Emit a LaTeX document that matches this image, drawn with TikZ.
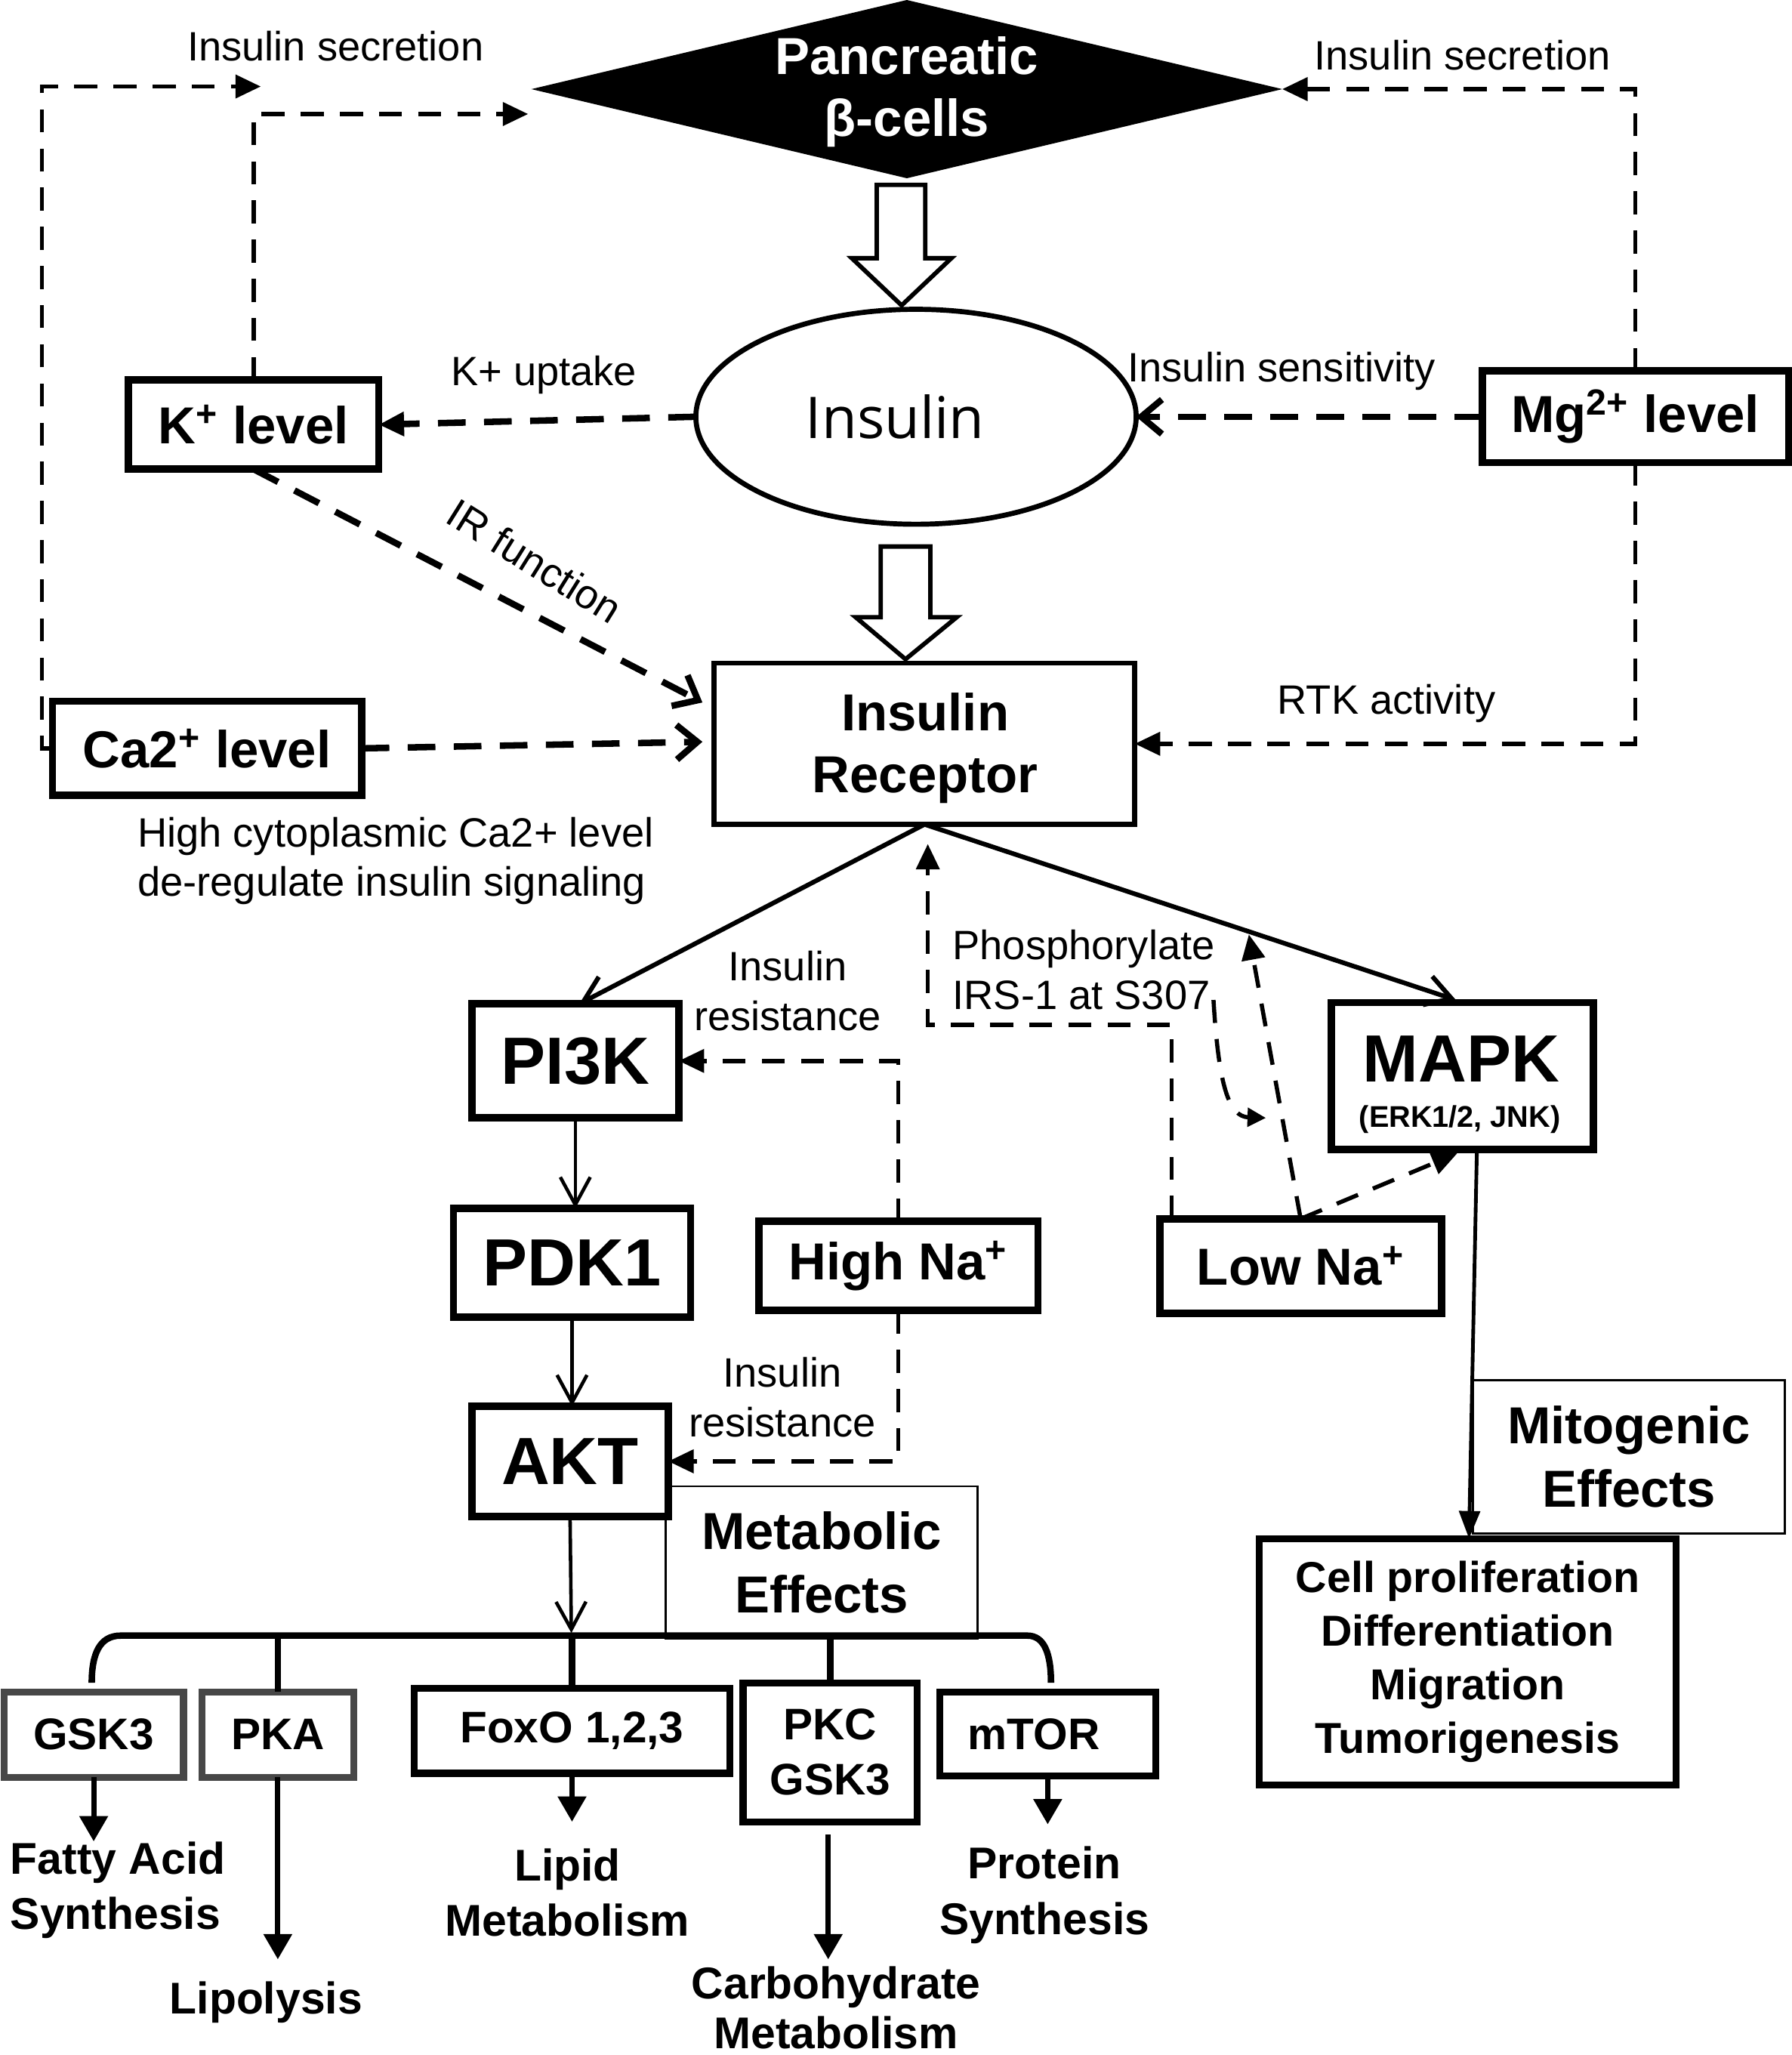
\documentclass[tikz,border=0pt]{standalone}
\usepackage{fontspec}
\setmainfont{Liberation Sans}
\newfontfamily\osans{Open Sans}
\usetikzlibrary{shapes.geometric,arrows.meta,calc}
\begin{document}
\begin{tikzpicture}[x=0.2mm,y=-0.2mm,line join=miter,
  every node/.style={inner sep=0pt,outer sep=0pt},
  lbl/.style={font=\fontsize{17.8}{21.5}\selectfont,align=center},
  bx/.style={draw,line width=3.2pt,align=center,font=\bfseries\fontsize{22.6}{27}\selectfont},
  bigbx/.style={bx,font=\bfseries\fontsize{29}{33}\selectfont},
  smbx/.style={bx,line width=3pt,font=\bfseries\fontsize{19.2}{24}\selectfont},
  graybx/.style={smbx,draw=black!72},
  thinbx/.style={draw,line width=0.9pt,align=center,font=\bfseries\fontsize{22.6}{27.5}\selectfont},
  outtxt/.style={font=\bfseries\fontsize{19.3}{24}\selectfont,align=center},
  dthin/.style={line width=1.8pt,dash pattern=on 10pt off 7pt},
  dthick/.style={line width=2.8pt,dash pattern=on 12pt off 8pt},
  tri/.style={-{Triangle[length=11pt,width=10pt]}},
  barb/.style={-{Straight Barb[length=9pt,width=15pt]}},
  vbarb/.style={-{Straight Barb[length=11pt,width=13pt]}},
  blk/.style={line width=1.9pt,fill=white},
  outarrow/.style={line width=2.3pt,-{Triangle[length=11pt,width=12pt]}}
]
\useasboundingbox (0,0) rectangle (1367,1568);

% ---------- top: pancreatic beta cells, insulin ----------
\node[diamond,fill=black,draw=none,minimum width=114.6mm,minimum height=27.2mm] (panc) at (692,68) {};
\node[text=white,align=center,font=\bfseries\fontsize{22.6}{27}\selectfont] (pancT) at (692,70) {Pancreatic\\β-cells};
\node[draw,ellipse,line width=2.2pt,minimum width=67.2mm,minimum height=32.8mm] (ins) at (699,318) {};
\node[font=\osans\fontsize{25}{30}\selectfont] (insT) at (683,318) {Insulin};

\draw[blk] (669,141) -- (706,141) -- (706,197) -- (726,197) -- (688,233) -- (650,197) -- (669,197) -- cycle;
\draw[blk] (672,417) -- (710,417) -- (710,471) -- (730,471) -- (691,503) -- (653,471) -- (672,471) -- cycle;

% ---------- boxes ----------
\node[bx,minimum width=38.2mm,minimum height=13.6mm] (k) at (193.5,324) {K\textsuperscript{+} level};
\node[bx,minimum width=46.8mm,minimum height=14mm] (mg) at (1248,318) {Mg\textsuperscript{2+} level};
\node[bx,minimum width=47.2mm,minimum height=14.4mm] (ca) at (158,571) {Ca2\textsuperscript{+} level};
\node[draw,line width=2.2pt,minimum width=64.2mm,minimum height=24.6mm,align=center,font=\bfseries\fontsize{22.6}{26.7}\selectfont] (ir) at (705.5,567.5) {};
\node[align=center,font=\bfseries\fontsize{22.6}{26.7}\selectfont] (irT) at (706,571) {Insulin\\Receptor};
\node[bigbx,minimum width=31.6mm,minimum height=17.4mm] (pi3k) at (439,809.5) {PI3K};
\node[bigbx,minimum width=36.2mm,minimum height=16.6mm] (pdk) at (436.5,963.5) {PDK1};
\node[bigbx,minimum width=30mm,minimum height=16.8mm] (akt) at (435,1115) {AKT};
\node[bx,minimum width=42.6mm,minimum height=13.6mm] (hna) at (685.5,966) {High Na\textsuperscript{+}};
\node[bx,minimum width=43mm,minimum height=14.4mm] (lna) at (992.5,966) {Low Na\textsuperscript{+}};
\node[bx,minimum width=40mm,minimum height=22.4mm] (mapk) at (1116,821) {};
\node[font=\bfseries\fontsize{29}{30}\selectfont] (mapkT) at (1115,808) {MAPK};
\node[font=\bfseries\fontsize{13}{15}\selectfont] (mapkS) at (1114,854) {(ERK1/2, JNK)};
\node[thinbx,minimum width=47.6mm,minimum height=23.4mm] (mito) at (1243,1111.5) {Mitogenic\\Effects};
\node[bx,line width=2.9pt,minimum width=63.6mm,minimum height=37.6mm,font=\bfseries\fontsize{18.8}{23.3}\selectfont] (cell) at (1120,1268) {Cell proliferation\\Differentiation\\Migration\\Tumorigenesis};
\node[thinbx,minimum width=47.6mm,minimum height=23.2mm] (meta) at (627,1192) {Metabolic\\Effects};
\node[graybx,minimum width=27.4mm,minimum height=13mm] (gsk) at (71.5,1323.5) {GSK3};
\node[graybx,minimum width=23.2mm,minimum height=13mm] (pka) at (212,1323.5) {PKA};
\node[smbx,minimum width=48.2mm,minimum height=13mm] (foxo) at (436.5,1320.5) {FoxO 1,2,3};
\node[smbx,minimum width=26.6mm,minimum height=21.2mm] (pkc) at (633.5,1337) {PKC\\GSK3};
\node[smbx,minimum width=33mm,minimum height=12.8mm] (mtor) at (799.5,1323) {mTOR\hspace*{12pt}};

% ---------- labels ----------
\node[lbl] (l1) at (256,35) {Insulin secretion};
\node[lbl] (l2) at (1116,42) {Insulin secretion};
\node[lbl] (l3) at (415,286) {K+ uptake};
\node[lbl] (l4) at (978,283) {Insulin sensitivity};
\node[lbl,rotate=-32] (l5) at (408,428) {IR function};
\node[lbl] (l6) at (1058,537) {RTK activity};
\node[lbl,align=left,anchor=west] (l7) at (105,657) {High cytoplasmic Ca2+ level\\de-regulate insulin signaling};
\node[lbl] (l8) at (601,756) {Insulin\\resistance};
\node[lbl] (l9) at (597,1066) {Insulin\\resistance};
\node[lbl,align=left,anchor=west] (l10) at (727,740) {Phosphorylate\\IRS-1 at S307};

\node[outtxt,align=left,anchor=west] (fas) at (8,1442) {Fatty Acid\\Synthesis};
\node[outtxt] (lipo) at (203,1528) {Lipolysis};
\node[outtxt] (lipid) at (433,1444) {Lipid\\Metabolism};
\node[outtxt,font=\bfseries\fontsize{19.3}{21.6}\selectfont] (carb) at (638,1532) {Carbohydrate\\Metabolism};
\node[outtxt] (prot) at (797,1446) {Protein\\Synthesis};

% ---------- dashed connectors ----------
\coordinate (sl1) at (199,66);
\coordinate (sl2) at (403,87);
\draw[dthin,tri] (ca.west) -- ++(-8,0) |- (sl1);
\draw[dthin,tri] (k.north) |- (sl2);
\draw[dthin,tri] (mg.north) |- (panc.east);
\draw[dthick,tri] (ins.west) -- (k.east);
\draw[dthick,barb] (mg.west) -- (ins.east);
\coordinate (ir1) at (536,536);
\coordinate (ir2) at (536,566);
\draw[dthick,barb] (k.south) -- (ir1);
\draw[dthick,barb] (ca.east) -- (ir2);
\draw[dthin,tri] (mg.south) |- (ir.east);
\draw[dthin,tri] (hna.north) |- (pi3k.east);
\draw[dthin,tri] (hna.south) |- (akt.east);

\coordinate (ln0) at (894,930);
\coordinate (lnc) at (894,782);
\coordinate (irb) at (708,644);
\draw[dthin,tri] (ln0) -- (lnc) -| (irb);
\coordinate (cv0) at (926,763);
\coordinate (cv1) at (966,853);
\draw[dthin,-{Triangle[length=8pt,width=8pt]}] (cv0) .. controls (930,830) and (938,852) .. (cv1);
\coordinate (up1) at (953,713);
\coordinate (mp1) at (1112,880);
\draw[dthin,tri] (lna.north) -- (up1);
\draw[dthin,tri] (lna.north) -- (mp1);

% ---------- solid connectors ----------
\draw[line width=2pt,vbarb] (ir.south) -- ($(pi3k.north)+(3,0)$);
\draw[line width=2pt,vbarb] (ir.south) -- ($(mapk.north)+(-5,-2)$);
\draw[line width=1.5pt,-{Straight Barb[length=12pt,width=13pt]}] (pi3k.south) -- (pi3k.south |- pdk.north);
\draw[line width=1.5pt,-{Straight Barb[length=12pt,width=13pt]}] (pdk.south) -- (pdk.south |- akt.north);
\coordinate (barpt) at (436,1246);
\draw[line width=1.5pt,-{Straight Barb[length=12pt,width=13pt]}] (akt.south) -- (barpt);
\draw[line width=1.6pt,-{Triangle[length=12pt,width=9pt]}] ($(mapk.south)+(11,0)$) -- ($(cell.north)+(1,0)$);

% branch bar
\coordinate (barL) at (0,1248);
\draw[line width=2.8pt] (70,1284) .. controls (70,1262) and (76,1248) .. (92,1248) -- (784,1248) .. controls (797,1248) and (802,1262) .. (802,1284);
\draw[line width=2.8pt] (pka.north |- barL) -- (pka.north);
\draw[line width=2.8pt] (foxo.north |- barL) -- (foxo.north);
\draw[line width=2.8pt] (pkc.north |- barL) -- (pkc.north);

% outcome arrows
\coordinate (o1) at (71.5,1405);
\coordinate (o2) at (212,1495);
\coordinate (o3) at (436.5,1390);
\coordinate (o4a) at (632,1400);
\coordinate (o4) at (632,1495);
\coordinate (o5) at (799.5,1392);
\draw[outarrow] (gsk.south) -- (o1);
\draw[outarrow] (pka.south) -- (o2);
\draw[outarrow] (foxo.south) -- (o3);
\draw[outarrow] (o4a) -- (o4);
\draw[outarrow] (mtor.south) -- (o5);
\end{tikzpicture}
\end{document}
